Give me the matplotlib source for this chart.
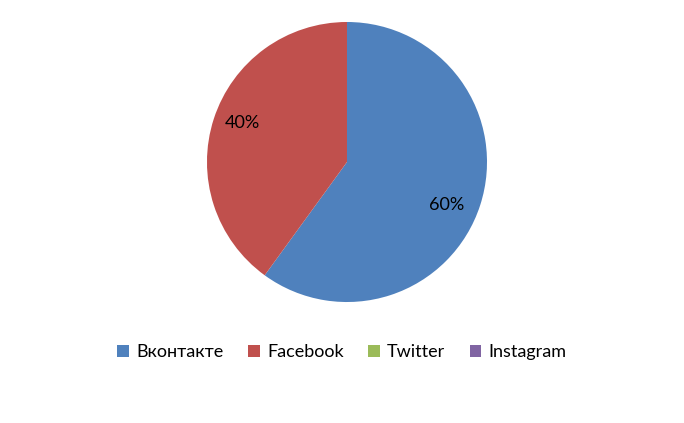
import matplotlib
matplotlib.use("Agg")
import matplotlib.pyplot as plt
from matplotlib.patches import Patch

labels = ['Вконтакте', 'Facebook', 'Twitter', 'Instagram']
values = [60, 40, 0, 0]
colors = ['#4F81BD', '#C0504D', '#9BBB59', '#8064A2']
# where the percentage labels sit (data units of the pie)
label_pos = [(0.714, -0.307), (-0.75, 0.279)]

plt.rcParams['font.family'] = ['Lato', 'DejaVu Sans']

fig = plt.figure(figsize=(6.84, 4.23), dpi=100)
ax = fig.add_axes([0.3026, 0.286, 0.4094, 0.662])

nz = [v for v in values if v > 0]
nz_colors = [c for v, c in zip(values, colors) if v > 0]
wedges, texts, autotexts = ax.pie(nz, colors=nz_colors, startangle=90, counterclock=False,
                                  autopct='%1.0f%%', pctdistance=0.78,
                                  wedgeprops=dict(linewidth=0))
for t, p in zip(autotexts, label_pos):
    t.set_fontsize(13)
    t.set_color('black')
    t.set_position(p)
ax.set_aspect('auto')
ax.set_xlim(-1, 1)
ax.set_ylim(-1, 1)

handles = [Patch(facecolor=c, edgecolor='none') for c in colors]
fig.legend(handles, labels, loc='center', bbox_to_anchor=(0.5, 0.168), ncol=4,
           frameon=False, fontsize=13, handlelength=0.65, handleheight=0.65,
           handletextpad=0.4, columnspacing=1.35)

fig.savefig('out.png', dpi=100)
